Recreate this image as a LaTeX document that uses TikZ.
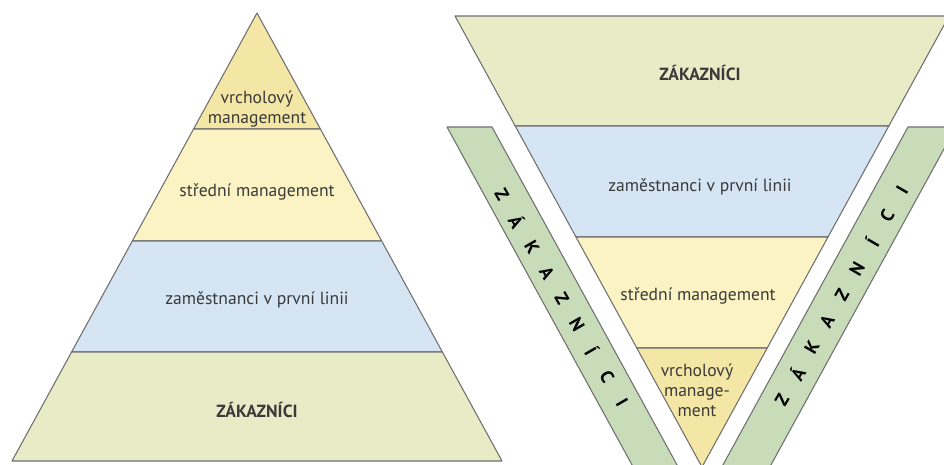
\documentclass[tikz,border=0pt]{standalone}
\usepackage{fontspec}
\setmainfont{PT Sans}

\definecolor{topyellow}{HTML}{F4E7A6}
\definecolor{midyellow}{HTML}{FBF3C4}
\definecolor{staffblue}{HTML}{D5E5F4}
\definecolor{custgreen}{HTML}{E7ECC7}
\definecolor{bandgreen}{HTML}{C9DCBA}
\definecolor{edgegray}{HTML}{6F6F6F}
\definecolor{textgray}{HTML}{3A3A3A}

\begin{document}
\begin{tikzpicture}[
x=0.02cm, y=-0.02cm,
layer/.style={draw=edgegray, line width=0.6pt, line join=round},
lbl/.style={align=center, text=textgray, font=\fontsize{10}{11.5}\selectfont},
bold lbl/.style={lbl, font=\bfseries\fontsize{10}{11.5}\selectfont},
bandletter/.style={text=black, inner sep=0pt, font=\bfseries\fontsize{10.5}{10.5}\selectfont}
]
\useasboundingbox (0,0) rectangle (944,464);
\clip (0,0) rectangle (944,464);

% classic pyramid
\fill[white] (0,0) rectangle (944,464);
\draw[layer, fill=topyellow]  (257,13) -- (320.4,129) -- (193.6,129) -- cycle;
\draw[layer, fill=midyellow]  (193.6,129) -- (320.4,129) -- (381.7,241) -- (132.3,241) -- cycle;
\draw[layer, fill=staffblue]  (132.3,241) -- (381.7,241) -- (442.4,352) -- (71.6,352) -- cycle;
\draw[layer, fill=custgreen]  (71.6,352) -- (442.4,352) -- (502,461) -- (12,461) -- cycle;

\node[lbl] (ltop) at (257,109) {vrcholový\\management};
\node[lbl] (lmid) at (257,192) {střední management};
\node[lbl] (lstaff) at (257,300) {zaměstnanci v první linii};
\node[bold lbl] (lcust) at (257,410) {ZÁKAZNÍCI};

% inverted pyramid
\draw[layer, fill=custgreen]  (455,16) -- (949,16) -- (888.8,126) -- (515.2,126) -- cycle;
\draw[layer, fill=staffblue]  (515.2,126) -- (888.8,126) -- (828,237) -- (576,237) -- cycle;
\draw[layer, fill=midyellow]  (576,237) -- (828,237) -- (767.2,348) -- (636.8,348) -- cycle;
\draw[layer, fill=topyellow]  (636.8,348) -- (767.2,348) -- (702,467) -- cycle;

\node[bold lbl] (rcust) at (700,73) {ZÁKAZNÍCI};
\node[lbl] (rstaff) at (700,187) {zaměstnanci v první linii};
\node[lbl] (rmid) at (698,296) {střední management};
\node[lbl] (rtop) at (697,390) {vrcholový\\manage-\\ment};

% side bands
\draw[layer, fill=bandgreen] (447,127) -- (492,127) -- (685.3,480) -- (640.3,480) -- cycle;
\draw[layer, fill=bandgreen] (908,127) -- (956,127) -- (762.7,480) -- (714.7,480) -- cycle;

\foreach \ch [count=\i from 0] in {Z,Á,K,A,Z,N,Í,C,I}
  \node[bandletter, rotate=-60] (lb\i) at ({502+15*\i},{195+26*\i}) {\ch};
\foreach \ch [count=\i from 0] in {Z,Á,K,A,Z,N,Í,C,I}
  \node[bandletter, rotate=60] (rb\i) at ({782+15*\i},{400-26.25*\i}) {\ch};
\end{tikzpicture}
\end{document}
